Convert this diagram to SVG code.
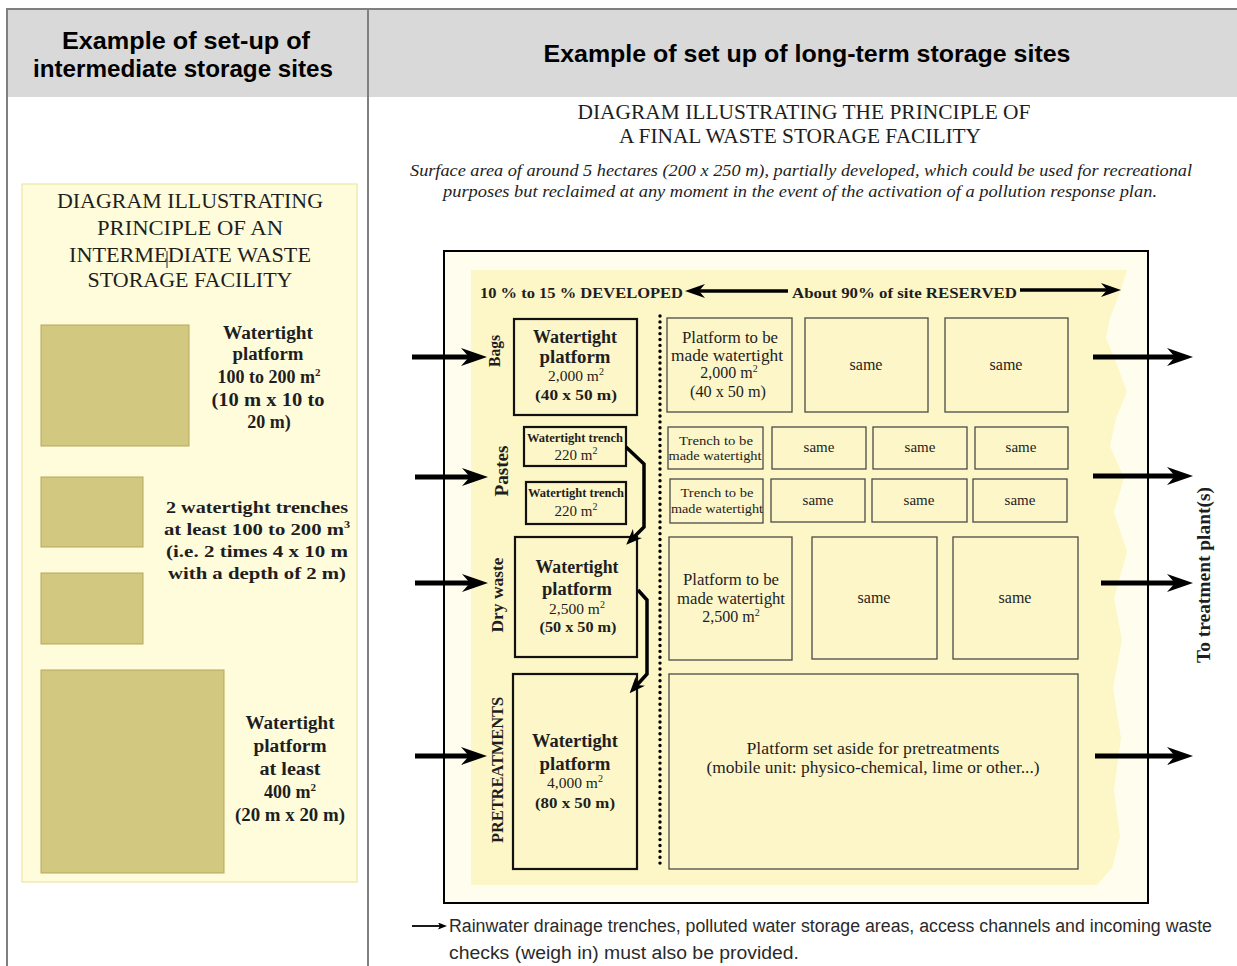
<svg xmlns="http://www.w3.org/2000/svg" width="1237" height="966" viewBox="0 0 1237 966">
<style>
.hdr{font-family:"Liberation Sans",Arial,sans-serif;font-weight:bold;font-size:24px;fill:#000}
.sf{font-family:"Liberation Serif","Times New Roman",serif;fill:#1e1e1e}
.b{font-weight:bold}
.it{font-style:italic}
.olive{fill:#d3c880;stroke:#b4a85f;stroke-width:1}
.bbox{fill:#fdf6c8;stroke:#111;stroke-width:2.2}
.tbox{fill:#fdf6c8;stroke:#4a4a4a;stroke-width:1.3}
.arr{stroke:#000;stroke-width:5;fill:none;marker-end:url(#ah)}
.arrs{stroke:#000;stroke-width:3.5;fill:none;marker-end:url(#ahs)}
.arrm{stroke:#000;stroke-width:3.5;fill:none;stroke-linejoin:miter;marker-end:url(#ahm)}
.grid{stroke:#7f7f7f;stroke-width:2;fill:none}
.cap{font-family:"Liberation Sans",Arial,sans-serif;font-size:18px;fill:#2a2a2a}
</style>
<defs>
<marker id="ah" markerUnits="userSpaceOnUse" viewBox="0 0 26 18" refX="8" refY="9" markerWidth="26" markerHeight="18" orient="auto"><path d="M0,0 L26,9 L0,18 L8,9 Z" fill="#000"/></marker>
<marker id="ahs" markerUnits="userSpaceOnUse" viewBox="0 0 20 14" refX="6" refY="7" markerWidth="20" markerHeight="14" orient="auto"><path d="M0,0 L20,7 L0,14 L6,7 Z" fill="#000"/></marker>
<marker id="ahm" markerUnits="userSpaceOnUse" viewBox="0 0 16 13" refX="5" refY="6.5" markerWidth="16" markerHeight="13" orient="auto"><path d="M0,0 L16,6.5 L0,13 L5,6.5 Z" fill="#000"/></marker>
<marker id="ahc" markerUnits="userSpaceOnUse" viewBox="0 0 9 7" refX="2" refY="3.5" markerWidth="9" markerHeight="7" orient="auto"><path d="M0,0 L9,3.5 L0,7 L2,3.5 Z" fill="#000"/></marker>
</defs>
<rect width="1237" height="966" fill="#fff"/>
<g id="table">
<rect x="7" y="9" width="1230" height="88" fill="#d9d9d9"/>
<line class="grid" x1="6" y1="9" x2="1237" y2="9"/>
<line class="grid" x1="7" y1="9" x2="7" y2="966"/>
<line class="grid" x1="368" y1="9" x2="368" y2="966"/>
<text class="hdr" x="186" y="49" text-anchor="middle" textLength="248" lengthAdjust="spacingAndGlyphs">Example of set-up of</text>
<text class="hdr" x="183" y="77" text-anchor="middle" textLength="300" lengthAdjust="spacingAndGlyphs">intermediate storage sites</text>
<text class="hdr" x="807" y="62" text-anchor="middle" textLength="527" lengthAdjust="spacingAndGlyphs">Example of set up of long-term storage sites</text>
</g>
<g id="left-panel">
<rect x="22" y="184" width="335" height="698" fill="#fffcdc" stroke="#ece6a6" stroke-width="1.2"/>
<g class="sf" font-size="21" text-anchor="middle">
<text x="190" y="208" textLength="266" lengthAdjust="spacingAndGlyphs">DIAGRAM ILLUSTRATING</text>
<text x="190" y="235" textLength="186" lengthAdjust="spacingAndGlyphs">PRINCIPLE OF AN</text>
<text x="190" y="262" textLength="242" lengthAdjust="spacingAndGlyphs">INTERMEDIATE WASTE</text>
<text x="190" y="287" textLength="205" lengthAdjust="spacingAndGlyphs">STORAGE FACILITY</text>
</g>
<line x1="167" y1="251" x2="167" y2="268" stroke="#222" stroke-width="1"/>
</g>
<g id="left-platform-small">
<rect class="olive" x="41" y="325" width="148" height="121"/>
<g class="sf b" font-size="18" text-anchor="middle">
<text x="268" y="339" textLength="90" lengthAdjust="spacingAndGlyphs">Watertight</text>
<text x="268" y="360" textLength="71" lengthAdjust="spacingAndGlyphs">platform</text>
<text x="269" y="383">100 to 200 m<tspan font-size="11" dy="-7">2</tspan></text>
<text x="268" y="406" textLength="113" lengthAdjust="spacingAndGlyphs">(10 m x 10 to</text>
<text x="269" y="428">20 m)</text>
</g>
</g>
<g id="left-trenches">
<rect class="olive" x="41" y="477" width="102" height="70"/>
<rect class="olive" x="41" y="573" width="102" height="71"/>
<g class="sf b" font-size="17" text-anchor="middle">
<text x="257" y="513" textLength="182" lengthAdjust="spacingAndGlyphs">2 watertight trenches</text>
<text x="257" y="535" textLength="186" lengthAdjust="spacingAndGlyphs">at least 100 to 200 m<tspan font-size="10" dy="-7">3</tspan></text>
<text x="257" y="557" textLength="182" lengthAdjust="spacingAndGlyphs">(i.e. 2 times 4 x 10 m</text>
<text x="257" y="579" textLength="178" lengthAdjust="spacingAndGlyphs">with a depth of 2 m)</text>
</g>
</g>
<g id="left-platform-large">
<rect class="olive" x="41" y="670" width="183" height="203"/>
<g class="sf b" font-size="18" text-anchor="middle">
<text x="290" y="729" textLength="89" lengthAdjust="spacingAndGlyphs">Watertight</text>
<text x="290" y="752" textLength="73" lengthAdjust="spacingAndGlyphs">platform</text>
<text x="290" y="775" textLength="61" lengthAdjust="spacingAndGlyphs">at least</text>
<text x="290" y="798">400 m<tspan font-size="11" dy="-7">2</tspan></text>
<text x="290" y="821" textLength="110" lengthAdjust="spacingAndGlyphs">(20 m x 20 m)</text>
</g>
</g>
<g id="right-title">
<g class="sf" font-size="21" text-anchor="middle">
<text x="804" y="119" textLength="453" lengthAdjust="spacingAndGlyphs">DIAGRAM ILLUSTRATING THE PRINCIPLE OF</text>
<text x="800" y="143" textLength="362" lengthAdjust="spacingAndGlyphs">A FINAL WASTE STORAGE FACILITY</text>
</g>
<g class="sf it" font-size="17" text-anchor="middle">
<text x="801" y="176" textLength="782" lengthAdjust="spacingAndGlyphs">Surface area of around 5 hectares (200 x 250 m), partially developed, which could be used for recreational</text>
<text x="800" y="197" textLength="714" lengthAdjust="spacingAndGlyphs">purposes but reclaimed at any moment in the event of the activation of a pollution response plan.</text>
</g>
</g>
<g id="site-frame">
<rect x="444" y="251" width="704" height="652" fill="#fffeee" stroke="#000" stroke-width="2"/>
<path d="M471,270 L1127,270 L1120,292 L1110,318 L1106,338 L1116,362 L1127,392 L1116,418 L1110,446 L1124,478 L1114,512 L1127,552 L1114,598 L1122,640 L1113,688 L1121,738 L1114,790 L1120,836 L1112,868 L1097,885 L471,885 Z" fill="#fdf6c6"/>
<line x1="660" y1="316" x2="660" y2="869" stroke="#000" stroke-width="3.4" stroke-linecap="round" stroke-dasharray="0 5.883"/>
<g class="sf b" font-size="15.5">
<text x="480" y="298" textLength="203" lengthAdjust="spacingAndGlyphs">10 % to 15 % DEVELOPED</text>
<text x="792" y="298" textLength="225" lengthAdjust="spacingAndGlyphs">About 90% of site RESERVED</text>
</g>
<text class="sf b" font-size="18" text-anchor="middle" transform="translate(1210,575) rotate(-90)" textLength="176" lengthAdjust="spacingAndGlyphs">To treatment plant(s)</text>
</g>
<g id="bags">
<text class="sf b" font-size="17" text-anchor="middle" transform="translate(500,351) rotate(-90)" textLength="32" lengthAdjust="spacingAndGlyphs">Bags</text>
<rect class="bbox" x="514" y="319" width="123" height="96"/>
<g class="sf" text-anchor="middle">
<text class="b" x="575" y="343" font-size="18" textLength="84" lengthAdjust="spacingAndGlyphs">Watertight</text>
<text class="b" x="575" y="363" font-size="18" textLength="71" lengthAdjust="spacingAndGlyphs">platform</text>
<text x="576" y="381" font-size="15.5">2,000 m<tspan font-size="10" dy="-6">2</tspan></text>
<text class="b" x="576" y="400" font-size="14" textLength="82" lengthAdjust="spacingAndGlyphs">(40 x 50 m)</text>
</g>
</g>
<g id="pastes">
<text class="sf b" font-size="18" text-anchor="middle" transform="translate(508,471) rotate(-90)" textLength="51" lengthAdjust="spacingAndGlyphs">Pastes</text>
<rect class="bbox" x="524" y="427" width="102" height="39"/>
<rect class="bbox" x="526" y="482" width="100" height="42"/>
<g class="sf" text-anchor="middle">
<text class="b" x="575" y="442" font-size="11.5" textLength="96" lengthAdjust="spacingAndGlyphs">Watertight trench</text>
<text x="576" y="460" font-size="15">220 m<tspan font-size="10" dy="-6">2</tspan></text>
<text class="b" x="576" y="497" font-size="11.5" textLength="96" lengthAdjust="spacingAndGlyphs">Watertight trench</text>
<text x="576" y="516" font-size="15">220 m<tspan font-size="10" dy="-6">2</tspan></text>
</g>
</g>
<g id="dry-waste">
<text class="sf b" font-size="17" text-anchor="middle" transform="translate(503,595) rotate(-90)" textLength="75" lengthAdjust="spacingAndGlyphs">Dry waste</text>
<rect class="bbox" x="515" y="537" width="122" height="120"/>
<g class="sf" text-anchor="middle">
<text class="b" x="577" y="573" font-size="18" textLength="83" lengthAdjust="spacingAndGlyphs">Watertight</text>
<text class="b" x="577" y="595" font-size="18" textLength="70" lengthAdjust="spacingAndGlyphs">platform</text>
<text x="577" y="614" font-size="15.5">2,500 m<tspan font-size="10" dy="-6">2</tspan></text>
<text class="b" x="578" y="632" font-size="14" textLength="77" lengthAdjust="spacingAndGlyphs">(50 x 50 m)</text>
</g>
</g>
<g id="pretreatments">
<text class="sf b" font-size="17" text-anchor="middle" transform="translate(503,770) rotate(-90)" textLength="146" lengthAdjust="spacingAndGlyphs">PRETREATMENTS</text>
<rect class="bbox" x="513" y="674" width="124" height="195"/>
<g class="sf" text-anchor="middle">
<text class="b" x="575" y="747" font-size="18" textLength="86" lengthAdjust="spacingAndGlyphs">Watertight</text>
<text class="b" x="575" y="770" font-size="18" textLength="71" lengthAdjust="spacingAndGlyphs">platform</text>
<text x="575" y="788" font-size="15.5">4,000 m<tspan font-size="10" dy="-6">2</tspan></text>
<text class="b" x="575" y="808" font-size="14" textLength="80" lengthAdjust="spacingAndGlyphs">(80 x 50 m)</text>
</g>
</g>
<g id="reserved-bags">
<rect class="tbox" x="667" y="318" width="125" height="94"/>
<rect class="tbox" x="805" y="318" width="123" height="94"/>
<rect class="tbox" x="945" y="318" width="123" height="94"/>
<g class="sf" font-size="16" text-anchor="middle">
<text x="730" y="343" textLength="96" lengthAdjust="spacingAndGlyphs">Platform to be</text>
<text x="727" y="361" textLength="112" lengthAdjust="spacingAndGlyphs">made watertight</text>
<text x="729" y="378">2,000 m<tspan font-size="10" dy="-6">2</tspan></text>
<text x="728" y="397" textLength="76" lengthAdjust="spacingAndGlyphs">(40 x 50 m)</text>
<text x="866" y="370">same</text>
<text x="1006" y="370">same</text>
</g>
</g>
<g id="reserved-pastes">
<rect class="tbox" x="668" y="427" width="95" height="42"/>
<rect class="tbox" x="772" y="427" width="94" height="42"/>
<rect class="tbox" x="873" y="427" width="94" height="42"/>
<rect class="tbox" x="975" y="427" width="93" height="42"/>
<rect class="tbox" x="670" y="479" width="93" height="44"/>
<rect class="tbox" x="771" y="479" width="94" height="43"/>
<rect class="tbox" x="872" y="479" width="95" height="43"/>
<rect class="tbox" x="973" y="479" width="94" height="43"/>
<g class="sf" text-anchor="middle">
<text x="716" y="445" font-size="13.5" textLength="74" lengthAdjust="spacingAndGlyphs">Trench to be</text>
<text x="715" y="460" font-size="13.5" textLength="93" lengthAdjust="spacingAndGlyphs">made watertight</text>
<text x="717" y="497" font-size="13.5" textLength="73" lengthAdjust="spacingAndGlyphs">Trench to be</text>
<text x="717" y="513" font-size="13.5" textLength="92" lengthAdjust="spacingAndGlyphs">made watertight</text>
<g font-size="15">
<text x="819" y="452">same</text>
<text x="920" y="452">same</text>
<text x="1021" y="452">same</text>
<text x="818" y="505">same</text>
<text x="919" y="505">same</text>
<text x="1020" y="505">same</text>
</g>
</g>
</g>
<g id="reserved-dry-waste">
<rect class="tbox" x="669" y="537" width="123" height="123"/>
<rect class="tbox" x="812" y="537" width="125" height="122"/>
<rect class="tbox" x="953" y="537" width="125" height="122"/>
<g class="sf" font-size="16" text-anchor="middle">
<text x="731" y="585" textLength="96" lengthAdjust="spacingAndGlyphs">Platform to be</text>
<text x="731" y="604" textLength="108" lengthAdjust="spacingAndGlyphs">made watertight</text>
<text x="731" y="622">2,500 m<tspan font-size="10" dy="-6">2</tspan></text>
<text x="874" y="603">same</text>
<text x="1015" y="603">same</text>
</g>
</g>
<g id="reserved-pretreatments">
<rect class="tbox" x="669" y="674" width="409" height="195"/>
<g class="sf" font-size="16" text-anchor="middle">
<text x="873" y="754" textLength="253" lengthAdjust="spacingAndGlyphs">Platform set aside for pretreatments</text>
<text x="873" y="773" textLength="333" lengthAdjust="spacingAndGlyphs">(mobile unit: physico-chemical, lime or other...)</text>
</g>
</g>
<g id="connectors">
<line class="arrs" x1="788" y1="291" x2="699" y2="291"/>
<line class="arrs" x1="1020" y1="290" x2="1107" y2="290"/>
<line class="arr" x1="412" y1="357" x2="469" y2="357"/>
<line class="arr" x1="415" y1="477" x2="470" y2="477"/>
<line class="arr" x1="415" y1="583" x2="470" y2="583"/>
<line class="arr" x1="415" y1="756" x2="469" y2="756"/>
<line class="arr" x1="1093" y1="357" x2="1175" y2="357"/>
<line class="arr" x1="1093" y1="476" x2="1175" y2="476"/>
<line class="arr" x1="1101" y1="583" x2="1175" y2="583"/>
<line class="arr" x1="1095" y1="756" x2="1175" y2="756"/>
<path class="arrm" d="M626,447 L644,464 L644,527 L634,537"/>
<path class="arrm" d="M638,590 L647,600 L647,674 L637,685"/>
<line x1="412" y1="926" x2="440" y2="926" stroke="#000" stroke-width="1.8" marker-end="url(#ahc)"/>
</g>
<g id="caption">
<text class="cap" x="449" y="932" textLength="763" lengthAdjust="spacingAndGlyphs">Rainwater drainage trenches, polluted water storage areas, access channels and incoming waste</text>
<text class="cap" x="449" y="959" textLength="350" lengthAdjust="spacingAndGlyphs">checks (weigh in) must also be provided.</text>
</g>
</svg>
